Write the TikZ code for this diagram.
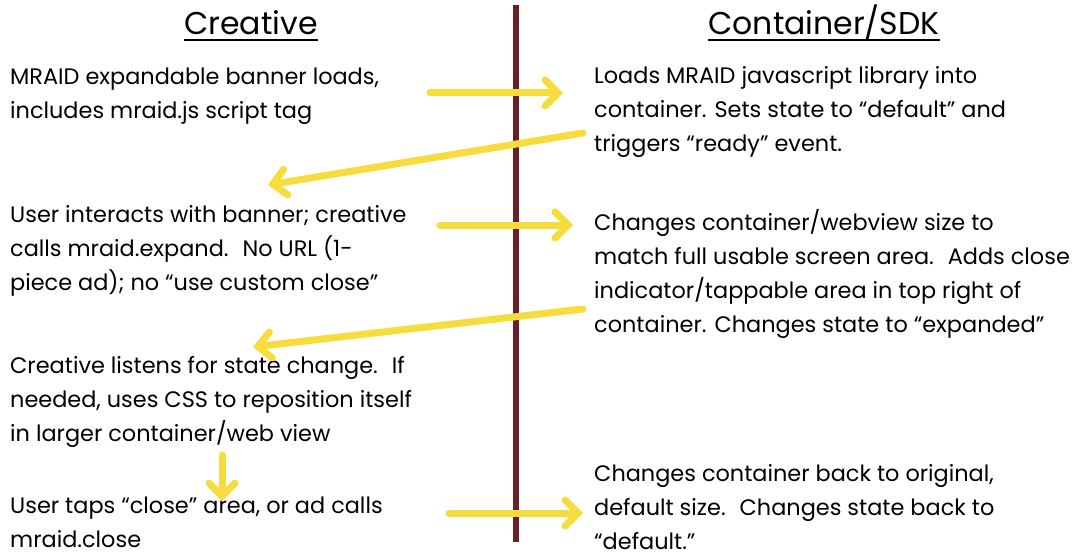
\documentclass[tikz,border=0pt]{standalone}
\usepackage{fontspec}
\setmainfont{Poppins}
\usetikzlibrary{arrows.meta,positioning}
\definecolor{msgyellow}{RGB}{247,220,62}
\definecolor{lanered}{RGB}{104,32,36}
\tikzset{>={Straight Barb[length=13pt,width=26pt,line cap=round]}}
\tikzset{
  msg/.style={draw=msgyellow, line width=7pt, line cap=round, ->},
  txt/.style={anchor=base west, align=left, inner sep=0pt, font=\fontsize{22.4}{34}\selectfont},
  head/.style={anchor=base, inner sep=0pt, font=\fontsize{31.5}{34}\selectfont},
}

\begin{document}
\begin{tikzpicture}[x=1pt,y=-1pt]
  \useasboundingbox (0,0) rectangle (1083,556);
  % headings
  \node[head] (hcre) at (251,35) {Creative};
  \node[head] (hsdk) at (824,35) {Container/SDK};
  \draw[line width=2.5pt] ([yshift=-5pt]hcre.base west) -- ([yshift=-5pt]hcre.base east);
  \draw[line width=2.5pt] ([yshift=-5pt]hsdk.base west) -- ([yshift=-5pt]hsdk.base east);
  % lane divider
  \coordinate (top) at (516,5);
  \coordinate (bot) at (516,542);
  \draw[lanered, line width=6.5pt] (top) -- (bot);
  % creative side (placed at the base of the last line)
  \node[txt] (cre1) at (10,119) {MRAID expandable banner loads,\\includes mraid.js script tag};
  \node[txt] (cre2) at (10,290) {User interacts with banner; creative\\calls mraid.expand.~ No URL (1-\\piece ad); no “use custom close”};
  \node[txt] (cre3) at (10,441) {Creative listens for state change.~ If\\needed, uses CSS to reposition itself\\in larger container/web view};
  \node[txt] (cre4) at (10,547) {User taps “close” area, or ad calls\\mraid.close};
  % container side
  \node[txt] (sdk1) at (594,152) {Loads MRAID javascript library into\\container. Sets state to “default” and\\triggers “ready” event.};
  \node[txt] (sdk2) at (594,332) {Changes container/webview size to\\match full usable screen area.~ Adds close\\indicator/tappable area in top right of\\container. Changes state to “expanded”};
  \node[txt] (sdk3) at (594,549) {Changes container back to original,\\default size.~ Changes state back to\\“default.”};
  % messages
  \coordinate (m1a) at (430,93);  \coordinate (m1b) at (563,93);
  \coordinate (m2a) at (583,133); \coordinate (m2b) at (268,185);
  \coordinate (m3a) at (440,225); \coordinate (m3b) at (573,225);
  \coordinate (m4a) at (583,309); \coordinate (m4b) at (253,347);
  \coordinate (m5a) at (222,455); \coordinate (m5b) at (222,501);
  \coordinate (m6a) at (449,513); \coordinate (m6b) at (583,513);
  \draw[msg] (m1a) -- (m1b);
  \draw[msg] (m2a) -- (m2b);
  \draw[msg] (m3a) -- (m3b);
  \draw[msg] (m4a) -- (m4b);
  \draw[msg] (m5a) -- (m5b);
  \draw[msg] (m6a) -- (m6b);
\end{tikzpicture}
\end{document}
